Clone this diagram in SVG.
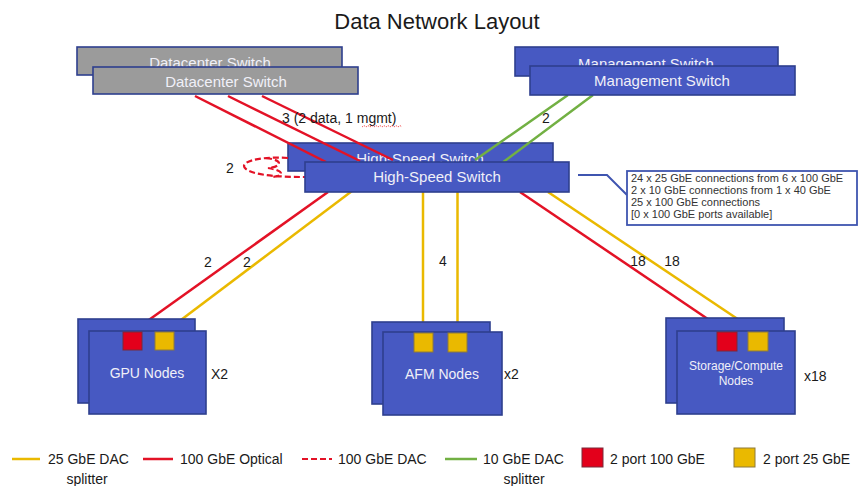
<svg xmlns="http://www.w3.org/2000/svg" width="859" height="486" viewBox="0 0 859 486">
<style>
text{font-family:"Liberation Sans",Arial,sans-serif}
.title{font-size:22px;fill:#1a1a1a}
.blue{fill:#4759C2;stroke:#2E3F8E;stroke-width:1.6}
.gray{fill:#9B9B9B;stroke:#2E3F8E;stroke-width:1.6}
.bt{font-size:15px;fill:#F0F0F8;text-anchor:middle}
.nt{font-size:14px;fill:#F0F0F8;text-anchor:middle}
.st{font-size:12px;fill:#F0F0F8;text-anchor:middle}
.lbl{font-size:14px;fill:#1a1a1a}
.mid{text-anchor:middle}
.red{stroke:#E31226;stroke-width:2.5;fill:none}
.yel{stroke:#EAB900;stroke-width:2.5;fill:none}
.grn{stroke:#72B043;stroke-width:2.5;fill:none}
.dash{stroke:#E31226;stroke-width:2.2;fill:none;stroke-dasharray:6 3}
.pr{fill:#E3001B;stroke:#7A2A3A;stroke-width:1}
.py{fill:#EAB900;stroke:#8E7A3A;stroke-width:1}
.co{font-size:11px;fill:#333}
.lg{font-size:14px;fill:#1a1a1a}
</style>

<g id="title"><text class="title" x="437" y="29" text-anchor="middle">Data Network Layout</text></g>

<g id="datacenter-switch-back">
<rect class="gray" x="77" y="47" width="265" height="28"/>
<text class="bt" x="210" y="68">Datacenter Switch</text>
</g>
<g id="management-switch-back">
<rect class="blue" x="515" y="47" width="263" height="29"/>
<text class="bt" x="646" y="69">Management Switch</text>
</g>
<g id="hs-switch-back">
<rect class="blue" x="288" y="143" width="265" height="28"/>
<text class="bt" x="420" y="164">High-Speed Switch</text>
</g>

<g id="connectors">
<line class="red" x1="195" y1="96" x2="326" y2="162"/>
<line class="red" x1="228" y1="96" x2="360" y2="161"/>
<line class="red" x1="262" y1="96" x2="393" y2="160"/>
<line class="grn" x1="568" y1="95" x2="475" y2="160"/>
<line class="grn" x1="593" y1="95" x2="502" y2="163"/>
<path class="dash" d="M288 158 C255 156 238 163 246 169 C254 176 285 177 305 177"/>
<path class="dash" d="M266 158 C284 160 282 167 268 168 C283 170 286 176 272 177"/>
<line class="red" x1="328" y1="192" x2="132" y2="332"/>
<line class="yel" x1="352" y1="191" x2="165" y2="332"/>
<line class="yel" x1="423" y1="192" x2="423" y2="333"/>
<line class="yel" x1="457.5" y1="192" x2="457.5" y2="333"/>
<line class="red" x1="520" y1="192" x2="727" y2="332"/>
<line class="yel" x1="548" y1="192" x2="757" y2="332"/>
<text class="lbl" x="282" y="123">3 (2 data, 1 mgmt)</text>
<path d="M362 127 l2 -1.5 l2 1.5 l2 -1.5 l2 1.5 l2 -1.5 l2 1.5 l2 -1.5 l2 1.5 l2 -1.5 l2 1.5 l2 -1.5 l2 1.5 l2 -1.5 l2 1.5 l2 -1.5 l2 1.5 l2 -1.5 l2 1.5 l2 -1.5 l2 1.5" fill="none" stroke="#E33" stroke-width="0.8" stroke-dasharray="1.5 1"/>
<text class="lbl mid" x="546" y="123">2</text>
<text class="lbl mid" x="230" y="173">2</text>
<text class="lbl mid" x="208" y="267">2</text>
<text class="lbl mid" x="247" y="267">2</text>
<text class="lbl mid" x="443" y="266">4</text>
<text class="lbl mid" x="638" y="266">18</text>
<text class="lbl mid" x="672" y="266">18</text>
</g>

<g id="datacenter-switch">
<rect class="gray" x="93" y="67" width="265" height="27"/>
<text class="bt" x="226" y="87">Datacenter Switch</text>
</g>
<g id="management-switch">
<rect class="blue" x="530" y="66" width="265" height="29"/>
<text class="bt" x="662" y="86">Management Switch</text>
</g>
<g id="hs-switch">
<rect class="blue" x="305" y="162" width="264" height="30"/>
<text class="bt" x="437" y="182">High-Speed Switch</text>
</g>

<g id="hs-callout">
<path d="M578 175 L607 175 L627 195" fill="none" stroke="#3F55B0" stroke-width="2"/>
<rect x="627" y="171" width="230" height="54" fill="#fff" stroke="#3F55B0" stroke-width="1.8"/>
<text class="co" x="631" y="182">24 x 25 GbE connections from 6 x 100 GbE</text>
<text class="co" x="631" y="194">2 x 10 GbE connections from 1 x 40 GbE</text>
<text class="co" x="631" y="206">25 x 100 GbE connections</text>
<text class="co" x="631" y="218">[0 x 100 GbE ports available]</text>
</g>

<g id="gpu-nodes">
<rect class="blue" x="78" y="319" width="117" height="84"/>
<rect class="blue" x="89" y="331" width="117" height="83"/>
<rect class="pr" x="123" y="332" width="19" height="18"/>
<rect class="py" x="155" y="332" width="19" height="18"/>
<text class="nt" x="147" y="378">GPU Nodes</text>
<text class="lbl" x="211" y="379">X2</text>
</g>

<g id="afm-nodes">
<rect class="blue" x="372" y="322" width="118" height="82"/>
<rect class="blue" x="383" y="332" width="119" height="83"/>
<rect class="py" x="414" y="333" width="19" height="19"/>
<rect class="py" x="448" y="333" width="19" height="19"/>
<text class="nt" x="442" y="379">AFM Nodes</text>
<text class="lbl" x="504" y="379">x2</text>
</g>

<g id="storage-compute-nodes">
<rect class="blue" x="666" y="318" width="118" height="85"/>
<rect class="blue" x="677" y="331" width="118" height="83"/>
<rect class="pr" x="717" y="332" width="20" height="19"/>
<rect class="py" x="748" y="332" width="20" height="19"/>
<text class="st" x="736" y="370">Storage/Compute</text>
<text class="st" x="736" y="385">Nodes</text>
<text class="lbl" x="804" y="381">x18</text>
</g>

<g id="legend">
<line class="yel" x1="12" y1="459" x2="40" y2="459"/>
<text class="lg" x="48" y="464">25 GbE DAC</text>
<text class="lg mid" x="87" y="484">splitter</text>
<line class="red" x1="143" y1="459" x2="173" y2="459"/>
<text class="lg" x="180" y="464">100 GbE Optical</text>
<line class="dash" x1="302" y1="459" x2="332" y2="459" stroke-width="2.5" stroke-dasharray="7 4"/>
<text class="lg" x="338" y="464">100 GbE DAC</text>
<line class="grn" x1="445" y1="459" x2="477" y2="459"/>
<text class="lg" x="483" y="464">10 GbE DAC</text>
<text class="lg mid" x="524" y="484">splitter</text>
<rect class="pr" x="582" y="448" width="21" height="19"/>
<text class="lg" x="610" y="464">2 port 100 GbE</text>
<rect class="py" x="734" y="448" width="21" height="19"/>
<text class="lg" x="763" y="464">2 port 25 GbE</text>
</g>
</svg>
